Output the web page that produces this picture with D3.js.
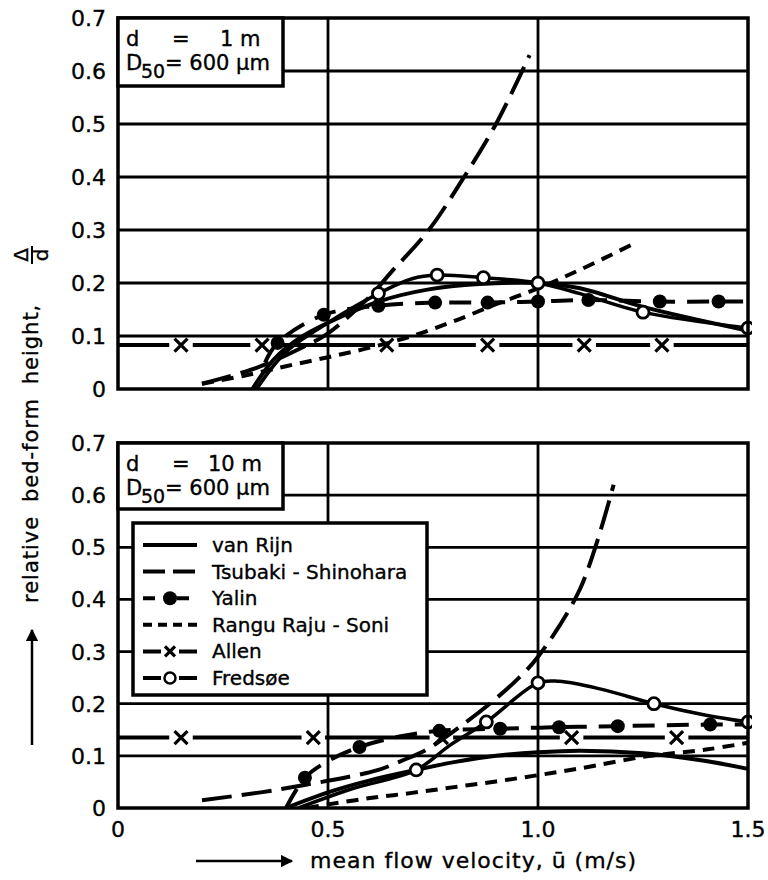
<!DOCTYPE html>
<html>
<head>
<meta charset="utf-8">
<script src="https://cdn.jsdelivr.net/npm/d3@7"></script>
<style>
  html, body { margin: 0; padding: 0; background: #fff; }
  svg { display: block; }
  text { font-family: "DejaVu Sans", sans-serif; fill: #000; stroke: #000; stroke-width: 0.35px; }
</style>
</head>
<body>
<div id="chart"></div>
<script>
// axis ticks
var velTicks = [0, 0.5, 1.0, 1.5];
var velLabels = ["0", "0.5", "1.0", "1.5"];
var heightTicks = [0, 0.1, 0.2, 0.3, 0.4, 0.5, 0.6, 0.7];
var heightLabels = ["0", "0.1", "0.2", "0.3", "0.4", "0.5", "0.6", "0.7"];
var seriesNames = ["van Rijn", "Tsubaki - Shinohara", "Yalin", "Rangu Raju - Soni", "Allen", "Fredsøe"];

// top panel: d = 1 m  ([velocity, relative height])
var rijnTop = [[0.32,0],[0.37,0.055],[0.43,0.095],[0.5,0.125],[0.62,0.165],[0.74,0.188],[0.86,0.198],[1.0,0.2],[1.1,0.19],[1.25,0.155],[1.5,0.11]];
var tsubakiTop = [[0.2,0.01],[0.33,0.04],[0.43,0.075],[0.5,0.105],[0.6,0.175],[0.65,0.22],[0.74,0.3],[0.82,0.395],[0.9,0.5],[0.98,0.63]];
var yalinTop = [[0.35,0.05],[0.38,0.087],[0.49,0.14],[0.62,0.157],[0.755,0.163],[0.88,0.163],[1.0,0.165],[1.12,0.168],[1.29,0.165],[1.43,0.165],[1.5,0.165]];
var yalinDotsTop = [[0.38,0.087],[0.49,0.14],[0.62,0.157],[0.755,0.163],[0.88,0.163],[1.0,0.165],[1.12,0.168],[1.29,0.165],[1.43,0.165]];
var ranguTop = [[0.2,0.01],[0.3,0.025],[0.4,0.043],[0.5,0.06],[0.6,0.078],[0.7,0.1],[0.8,0.128],[0.9,0.16],[1.0,0.19],[1.1,0.225],[1.23,0.275]];
var allenLevelTop = 0.083;
var allenMarksTop = [0.15, 0.343, 0.64, 0.88, 1.11, 1.295];
var fredsoeTop = [[0.33,0],[0.4,0.07],[0.5,0.125],[0.62,0.18],[0.7,0.208],[0.76,0.215],[0.87,0.21],[1.0,0.2],[1.1,0.18],[1.25,0.145],[1.5,0.115]];
var fredsoeDotsTop = [[0.62,0.18],[0.76,0.215],[0.87,0.21],[1.0,0.2],[1.25,0.145],[1.5,0.115]];

// bottom panel: d = 10 m
var rijnBot = [[0.4,0],[0.5,0.03],[0.6,0.053],[0.71,0.073],[0.8,0.088],[0.9,0.1],[1.0,0.107],[1.1,0.11],[1.25,0.105],[1.4,0.09],[1.5,0.075]];
var tsubakiBot = [[0.2,0.015],[0.34,0.03],[0.45,0.045],[0.55,0.06],[0.62,0.073],[0.68,0.092],[0.73,0.11],[0.78,0.136],[0.885,0.2],[0.955,0.25],[1.0,0.29],[1.1,0.42],[1.18,0.62]];
var yalinBot = [[0.4,0],[0.445,0.058],[0.5,0.09],[0.575,0.117],[0.67,0.137],[0.765,0.148],[0.91,0.152],[1.05,0.155],[1.19,0.157],[1.41,0.16],[1.5,0.16]];
var yalinDotsBot = [[0.445,0.058],[0.575,0.117],[0.765,0.148],[0.91,0.152],[1.05,0.155],[1.19,0.157],[1.41,0.16]];
var ranguBot = [[0.45,0],[0.5,0.007],[0.6,0.019],[0.7,0.029],[0.8,0.04],[0.9,0.051],[1.0,0.063],[1.1,0.076],[1.25,0.098],[1.4,0.112],[1.5,0.125]];
var allenLevelBot = 0.135;
var allenMarksBot = [0.15, 0.465, 0.77, 1.08, 1.33];
var fredsoeBot = [[0.43,0],[0.55,0.035],[0.71,0.073],[0.79,0.12],[0.877,0.165],[1.0,0.24],[1.05,0.243],[1.15,0.228],[1.276,0.2],[1.4,0.178],[1.5,0.165]];
var fredsoeDotsBot = [[0.71,0.073],[0.877,0.165],[1.0,0.24],[1.276,0.2],[1.5,0.165]];

var width = 768, height = 880;
var left = 118, right = 748;

var svg = d3.select("#chart").append("svg")
  .attr("width", width)
  .attr("height", height);
svg.append("rect").attr("width", width).attr("height", height).attr("fill", "#fff");

var x = d3.scaleLinear().domain([0, 1.5]).range([left, right]);

var lineWidth = 4;

function drawPanel(cfg) {
  var y = d3.scaleLinear().domain([0, 0.7]).range([cfg.bottom, cfg.top]);
  var g = svg.append("g");
  var line = d3.line()
    .x(function(d) { return x(d[0]); })
    .y(function(d) { return y(d[1]); })
    .curve(d3.curveCatmullRom.alpha(0.5));

  // grid
  g.selectAll("line.h").data(heightTicks.slice(1, -1)).enter().append("line")
    .attr("x1", left).attr("x2", right)
    .attr("y1", function(d) { return y(d); }).attr("y2", function(d) { return y(d); })
    .attr("stroke", "#000").attr("stroke-width", 2.8);
  g.selectAll("line.v").data(velTicks.slice(1, -1)).enter().append("line")
    .attr("y1", cfg.top).attr("y2", cfg.bottom)
    .attr("x1", function(d) { return x(d); }).attr("x2", function(d) { return x(d); })
    .attr("stroke", "#000").attr("stroke-width", 2.8);

  // y tick labels
  g.selectAll("text.yl").data(heightTicks).enter().append("text")
    .attr("x", 106)
    .attr("y", function(d) { return y(d) + 8; })
    .attr("text-anchor", "end")
    .attr("font-size", 22)
    .text(function(d, i) { return heightLabels[i]; });

  var clipId = "clip" + cfg.id;
  g.append("clipPath").attr("id", clipId).append("rect")
    .attr("x", left).attr("y", cfg.top - 2)
    .attr("width", right - left + 4).attr("height", cfg.bottom - cfg.top + 2);
  var c = g.append("g").attr("clip-path", "url(#" + clipId + ")");

  // Allen: solid pieces broken at the x markers
  var gap = 0.028;
  var stops = [0].concat(allenMarksToPieces(cfg.allenMarks, gap)).concat([1.5]);
  for (var i = 0; i < stops.length; i += 2) {
    c.append("line")
      .attr("x1", x(stops[i])).attr("x2", x(stops[i + 1]))
      .attr("y1", y(cfg.allenLevel)).attr("y2", y(cfg.allenLevel))
      .attr("stroke", "#000").attr("stroke-width", lineWidth);
  }
  cfg.allenMarks.forEach(function(m) { drawCross(c, x(m), y(cfg.allenLevel), 6.5); });

  c.append("path").attr("d", line(cfg.rangu))
    .attr("fill", "none").attr("stroke", "#000").attr("stroke-width", lineWidth)
    .attr("stroke-dasharray", "12,8");
  c.append("path").attr("d", line(cfg.tsubaki))
    .attr("fill", "none").attr("stroke", "#000").attr("stroke-width", lineWidth)
    .attr("stroke-dasharray", "30,10");
  c.append("path").attr("d", line(cfg.yalin))
    .attr("fill", "none").attr("stroke", "#000").attr("stroke-width", lineWidth)
    .attr("stroke-dasharray", "22,12");
  c.append("path").attr("d", line(cfg.rijn))
    .attr("fill", "none").attr("stroke", "#000").attr("stroke-width", lineWidth);
  c.append("path").attr("d", line(cfg.fredsoe))
    .attr("fill", "none").attr("stroke", "#000").attr("stroke-width", 3.5);

  c.selectAll("circle.yd").data(cfg.yalinDots).enter().append("circle")
    .attr("cx", function(d) { return x(d[0]); })
    .attr("cy", function(d) { return y(d[1]); })
    .attr("r", 7).attr("fill", "#000");
  c.selectAll("circle.fd").data(cfg.fredsoeDots).enter().append("circle")
    .attr("cx", function(d) { return x(d[0]); })
    .attr("cy", function(d) { return y(d[1]); })
    .attr("r", 6).attr("fill", "#fff").attr("stroke", "#000").attr("stroke-width", 2.8);

  // frame
  g.append("rect")
    .attr("x", left).attr("y", cfg.top)
    .attr("width", right - left).attr("height", cfg.bottom - cfg.top)
    .attr("fill", "none").attr("stroke", "#000").attr("stroke-width", 3.5);

  // info box
  var bx = g.append("g");
  bx.append("rect")
    .attr("x", left).attr("y", cfg.top)
    .attr("width", 165).attr("height", cfg.boxH)
    .attr("fill", "#fff").attr("stroke", "#000").attr("stroke-width", 3.5);
  var b1 = cfg.top + 28, b2 = cfg.top + 52;
  bx.append("text").attr("x", 126).attr("y", b1).attr("font-size", 21).text("d");
  bx.append("text").attr("x", 172).attr("y", b1).attr("font-size", 21).text("=");
  bx.append("text").attr("x", cfg.depthX).attr("y", b1).attr("font-size", 21).text(cfg.depth);
  bx.append("text").attr("x", 126).attr("y", b2).attr("font-size", 21).text("D");
  bx.append("text").attr("x", 141).attr("y", b2 + 8).attr("font-size", 19).text("50");
  bx.append("text").attr("x", 165).attr("y", b2).attr("font-size", 21).text("= 600 µm");
  return g;
}

function allenMarksToPieces(marks, gap) {
  var out = [];
  marks.forEach(function(m) { out.push(m - gap); out.push(m + gap); });
  return out;
}

function drawCross(g, cx, cy, s) {
  g.append("path")
    .attr("d", "M" + (cx - s) + "," + (cy - s) + "L" + (cx + s) + "," + (cy + s) +
               "M" + (cx - s) + "," + (cy + s) + "L" + (cx + s) + "," + (cy - s))
    .attr("stroke", "#000").attr("stroke-width", 3.2).attr("fill", "none");
}

drawPanel({id: 1, top: 18, bottom: 389, depth: "1 m", depthX: 220, boxH: 68,
  rijn: rijnTop, tsubaki: tsubakiTop, yalin: yalinTop, yalinDots: yalinDotsTop,
  rangu: ranguTop, allenLevel: allenLevelTop, allenMarks: allenMarksTop,
  fredsoe: fredsoeTop, fredsoeDots: fredsoeDotsTop});
drawPanel({id: 2, top: 443, bottom: 808, depth: "10 m", depthX: 208, boxH: 66,
  rijn: rijnBot, tsubaki: tsubakiBot, yalin: yalinBot, yalinDots: yalinDotsBot,
  rangu: ranguBot, allenLevel: allenLevelBot, allenMarks: allenMarksBot,
  fredsoe: fredsoeBot, fredsoeDots: fredsoeDotsBot});

// legend in lower panel
var lg = svg.append("g");
lg.append("rect").attr("x", 133).attr("y", 523).attr("width", 294).attr("height", 172)
  .attr("fill", "#fff").attr("stroke", "#000").attr("stroke-width", 3.5);
var rowY = function(i) { return 545 + i * 26.6; };
var sx1 = 143, sx2 = 197;
lg.selectAll("text").data(seriesNames).enter().append("text")
  .attr("x", 212).attr("y", function(d, i) { return rowY(i) + 7; })
  .attr("font-size", 20)
  .text(function(d) { return d; });
var dashes = [null, "22,8", "12,22", "9,6", null, null];
seriesNames.forEach(function(name, i) {
  var yy = rowY(i);
  var ln = lg.append("line").attr("x1", sx1).attr("x2", sx2).attr("y1", yy).attr("y2", yy)
    .attr("stroke", "#000").attr("stroke-width", lineWidth);
  if (dashes[i]) ln.attr("stroke-dasharray", dashes[i]);
  var mid = (sx1 + sx2) / 2;
  if (i === 4) {
    ln.attr("stroke-dasharray", "18,18");
    drawCross(lg, mid, yy, 5);
  }
  if (i === 5) {
    ln.attr("stroke-dasharray", "18,18");
    lg.append("circle").attr("cx", mid).attr("cy", yy).attr("r", 5.5)
      .attr("fill", "#fff").attr("stroke", "#000").attr("stroke-width", 2.5);
  }
  if (i === 2) {
    lg.append("circle").attr("cx", mid).attr("cy", yy).attr("r", 7).attr("fill", "#000");
  }
});

// x tick labels
svg.selectAll("text.xl").data(velTicks).enter().append("text")
  .attr("x", function(d) { return x(d); })
  .attr("y", 837)
  .attr("text-anchor", "middle")
  .attr("font-size", 22)
  .text(function(d, i) { return velLabels[i]; });

// x axis title with arrow
svg.append("defs").append("marker")
  .attr("id", "arrow").attr("viewBox", "0 0 10 10")
  .attr("refX", 9).attr("refY", 5)
  .attr("markerWidth", 5).attr("markerHeight", 5)
  .attr("orient", "auto")
  .append("path").attr("d", "M0,0L10,5L0,10z").attr("fill", "#000");
svg.append("line").attr("x1", 196).attr("x2", 292).attr("y1", 861).attr("y2", 861)
  .attr("stroke", "#000").attr("stroke-width", 2.5).attr("marker-end", "url(#arrow)");
svg.append("text").attr("x", 310).attr("y", 868).attr("font-size", 22)
  .attr("letter-spacing", 1)
  .text("mean flow velocity, ū (m/s)");

// y axis title with arrow
var yt = svg.append("g").attr("transform", "translate(31,0) rotate(-90)");
yt.append("text").attr("x", -603).attr("y", 7).attr("font-size", 21)
  .attr("letter-spacing", 1).attr("word-spacing", 6)
  .text("relative bed-form height,");
yt.append("text").attr("x", -255).attr("y", -3).attr("text-anchor", "middle")
  .attr("font-size", 20).text("Δ");
yt.append("line").attr("x1", -264).attr("x2", -246).attr("y1", 1).attr("y2", 1)
  .attr("stroke", "#000").attr("stroke-width", 2);
yt.append("text").attr("x", -255).attr("y", 17).attr("text-anchor", "middle")
  .attr("font-size", 20).text("d");
svg.append("line").attr("x1", 32).attr("x2", 32).attr("y1", 745).attr("y2", 630)
  .attr("stroke", "#000").attr("stroke-width", 2.5).attr("marker-end", "url(#arrow)");
</script>
</body>
</html>
